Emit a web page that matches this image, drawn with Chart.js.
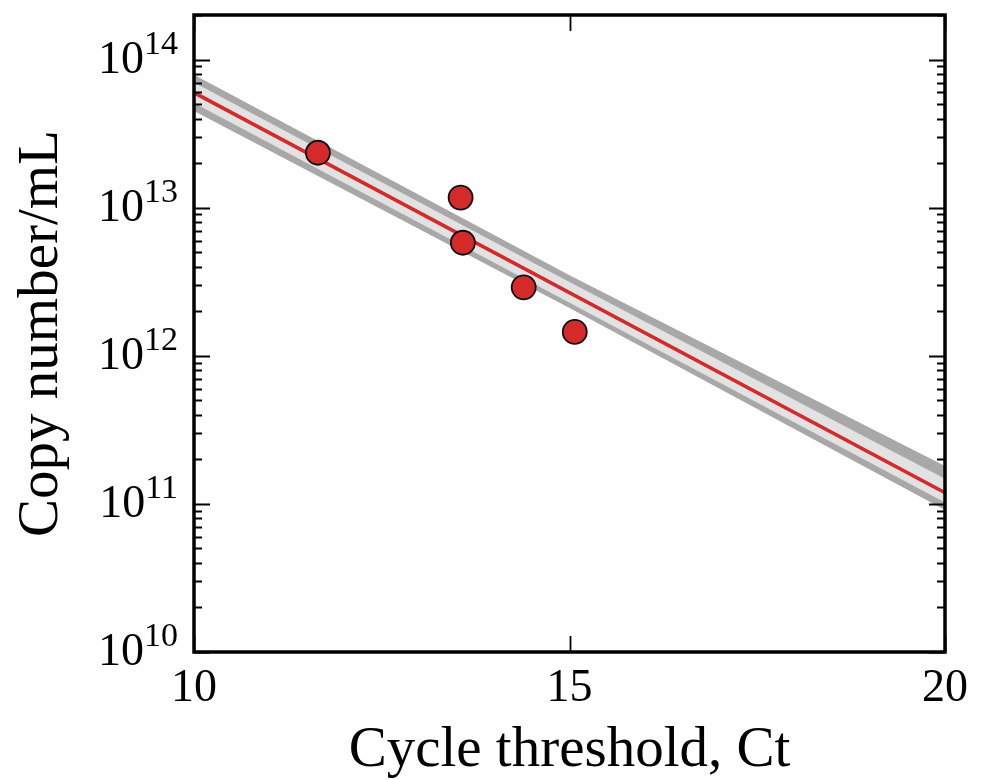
<!DOCTYPE html>
<html>
<head>
<meta charset="utf-8">
<title>Copy number vs cycle threshold</title>
<script src="https://cdn.jsdelivr.net/npm/chart.js@4.4.1/dist/chart.umd.min.js"></script>
<style>
    html, body { margin: 0; padding: 0; background: #ffffff; }
    #wrap { width: 984px; height: 780px; position: relative; }
</style>
</head>
<body>
<div id="wrap"><canvas id="ctChart"></canvas></div>
<script>
// Measured samples (Ct, copies/mL)
const ctValues = [11.65, 13.55, 13.58, 14.39, 15.07];
const copyNumbers = [2.35e13, 1.17e13, 5.8e12, 2.9e12, 1.45e12];

// Fitted standard curve
const fitCt = [10, 20];
const fitCopies = [5.98e13, 1.19e11];

// Interval bands around the fit
const bandCt = [10, 15, 20];
const outerUpper = [7.9e13, 3.5e12, 1.8e11];
const innerUpper = [7.0e13, 3.15e12, 1.48e11];
const innerLower = [5.1e13, 2.28e12, 1.02e11];
const outerLower = [4.5e13, 2.1e12, 9.1e10];

// Axes
const xTicks = [10, 15, 20];
const yExponents = [10, 11, 12, 13, 14];
const xLabel = 'Cycle threshold, Ct';
const yLabel = 'Copy number/mL';

(function() {
    'use strict';

    const serif = '"Liberation Serif", "DejaVu Serif", serif';
    const darkGray = '#a8a8a8';
    const lightGray = '#e2e2e2';
    const red = '#d42a2a';

    function toPoints(xs, ys) {
        return xs.map(function(x, i) { return { x: x, y: ys[i] }; });
    }

    /**
     * Frame, inward ticks on all four sides and 10^n labels
     */
    const framePlugin = {
        id: 'frame',
        afterDatasetsDraw: function(chart) {
            const ctx = chart.ctx;
            const area = chart.chartArea;
            const xs = chart.scales.x;
            const ys = chart.scales.y;

            ctx.save();
            ctx.strokeStyle = '#000';
            ctx.lineWidth = 1.8;

            // y ticks, major + minor, left and right
            yExponents.forEach(function(e) {
                for (let m = 1; m <= 9; m++) {
                    const v = m * Math.pow(10, e);
                    if (v > ys.max || v < ys.min) continue;
                    const py = Math.round(ys.getPixelForValue(v)) + 0.5;
                    const len = m === 1 ? 16 : 8;
                    ctx.beginPath();
                    ctx.moveTo(area.left, py);
                    ctx.lineTo(area.left + len, py);
                    ctx.moveTo(area.right, py);
                    ctx.lineTo(area.right - len, py);
                    ctx.stroke();
                }
            });

            // x ticks, bottom and top
            xTicks.forEach(function(t) {
                const px = Math.round(xs.getPixelForValue(t)) + 0.5;
                ctx.beginPath();
                ctx.moveTo(px, area.bottom);
                ctx.lineTo(px, area.bottom - 16);
                ctx.moveTo(px, area.top);
                ctx.lineTo(px, area.top + 16);
                ctx.stroke();
            });

            // frame
            ctx.lineWidth = 3.5;
            ctx.strokeRect(area.left, area.top, area.right - area.left, area.bottom - area.top);

            // 10^n tick labels
            ctx.fillStyle = '#000';
            ctx.textAlign = 'left';
            ctx.textBaseline = 'alphabetic';
            const baseFont = '46px ' + serif;
            const supFont = '34px ' + serif;
            const rightEdge = area.left - 16;
            yExponents.forEach(function(e) {
                const py = ys.getPixelForValue(Math.pow(10, e));
                const sup = String(e);
                ctx.font = supFont;
                const supW = ctx.measureText(sup).width;
                ctx.fillText(sup, rightEdge - supW, py - 6);
                ctx.font = baseFont;
                const baseW = ctx.measureText('10').width;
                ctx.fillText('10', rightEdge - supW - baseW, py + 13);
            });
            ctx.restore();
        }
    };

    const ctx = document.getElementById('ctChart').getContext('2d');
    new Chart(ctx, {
        type: 'scatter',
        data: {
            datasets: [{
                label: 'Samples',
                data: toPoints(ctValues, copyNumbers),
                pointRadius: 12,
                pointBackgroundColor: red,
                pointBorderColor: '#111',
                pointBorderWidth: 1.8,
                showLine: false,
                order: 0
            }, {
                label: 'Fit',
                data: toPoints(fitCt, fitCopies),
                showLine: true,
                borderColor: red,
                borderWidth: 3.6,
                pointRadius: 0,
                order: 1
            }, {
                label: 'Inner upper',
                data: toPoints(bandCt, innerUpper),
                showLine: true,
                borderWidth: 0,
                pointRadius: 0,
                backgroundColor: lightGray,
                fill: '+1',
                order: 2
            }, {
                label: 'Inner lower',
                data: toPoints(bandCt, innerLower),
                showLine: true,
                borderWidth: 0,
                pointRadius: 0,
                order: 3
            }, {
                label: 'Outer upper',
                data: toPoints(bandCt, outerUpper),
                showLine: true,
                borderWidth: 0,
                pointRadius: 0,
                backgroundColor: darkGray,
                fill: '+1',
                order: 4
            }, {
                label: 'Outer lower',
                data: toPoints(bandCt, outerLower),
                showLine: true,
                borderWidth: 0,
                pointRadius: 0,
                order: 5
            }]
        },
        options: {
            responsive: true,
            maintainAspectRatio: false,
            animation: false,
            layout: {
                padding: { left: 0, right: 39, top: 15, bottom: 0 }
            },
            plugins: {
                legend: { display: false },
                tooltip: { enabled: false }
            },
            scales: {
                x: {
                    type: 'linear',
                    min: 10,
                    max: 20,
                    afterBuildTicks: function(scale) {
                        scale.ticks = xTicks.map(function(v) { return { value: v }; });
                    },
                    afterFit: function(scale) { scale.height = 128; },
                    grid: { display: false, drawTicks: false },
                    border: { display: false },
                    ticks: {
                        color: '#000',
                        padding: 9,
                        maxRotation: 0,
                        font: { family: serif, size: 46 }
                    },
                    title: {
                        display: true,
                        text: xLabel,
                        color: '#000',
                        padding: { top: 0, bottom: 0 },
                        font: { family: serif, size: 57, lineHeight: 1.0 }
                    }
                },
                y: {
                    type: 'logarithmic',
                    min: 1e10,
                    max: 2e14,
                    afterFit: function(scale) { scale.width = 194; },
                    grid: { display: false, drawTicks: false },
                    border: { display: false },
                    ticks: { display: false },
                    title: {
                        display: true,
                        text: yLabel,
                        color: '#000',
                        padding: { top: 14, bottom: 0 },
                        font: { family: serif, size: 57, lineHeight: 1.0 }
                    }
                }
            }
        },
        plugins: [framePlugin]
    });
})();
</script>
</body>
</html>
